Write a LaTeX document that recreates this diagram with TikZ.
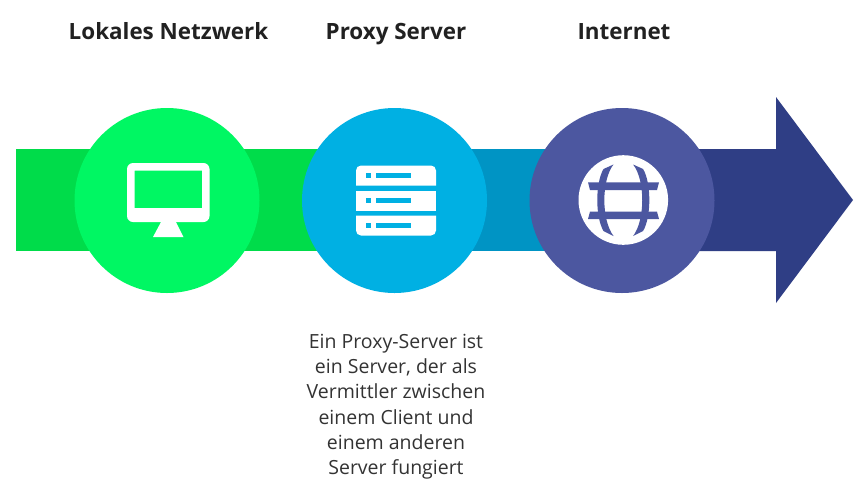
\documentclass[tikz,border=0pt]{standalone}
\usepackage{fontspec}
\setmainfont{Open Sans}
\definecolor{cgreen}{HTML}{00F763}
\definecolor{bgreen}{HTML}{00DC4A}
\definecolor{cblue}{HTML}{00B0E3}
\definecolor{bblue}{HTML}{0094C4}
\definecolor{cnavy}{HTML}{4C57A0}
\definecolor{bnavy}{HTML}{2F3E85}
\tikzset{
  disc/.style={circle,minimum size=185pt,inner sep=0pt,draw=none},
  heading/.style={font=\fontsize{22.4}{25}\selectfont\bfseries,text=black!87,inner sep=0pt,anchor=base},
  body/.style={font=\fontsize{19.5}{25.2}\selectfont,text=black!80,inner sep=0pt,align=center,anchor=north},
  glyph/.style={fill=white,draw=none}
}
\begin{document}
\begin{tikzpicture}[x=1pt,y=-1pt]
\useasboundingbox (0,0) rectangle (868,499);
\fill[white] (0,0) rectangle (868,499);
% bands
\fill[bgreen] (15.5,149) rectangle (320,251);
\fill[bblue] (320,149) rectangle (550,251);
\fill[bnavy] (550,149) -- (776,149) -- (776,97) -- (853,200) -- (776,303) -- (776,251) -- (550,251) -- cycle;
% discs
\node[disc,fill=cgreen] (lan) at (167,200.5) {};
\node[disc,fill=cblue] (proxy) at (394.5,200.5) {};
\node[disc,fill=cnavy] (net) at (622,200.5) {};
% monitor
\fill[glyph,even odd rule]
  [rounded corners=6pt] (127,163) rectangle (209.5,222)
  [sharp corners] (134.5,170.5) rectangle (202,208);
\fill[glyph] (161,222) -- (176,222) -- (183.5,237) -- (153,237) -- cycle;
% server
\fill[glyph] (356,185.5) [rounded corners=5pt] -- (356,165.5) -- (436,165.5) [sharp corners] -- (436,185.5) -- cycle;
\fill[glyph] (356,190.5) rectangle (436,210.5);
\fill[glyph] (356,215.5) [rounded corners=5pt] -- (356,235.5) -- (436,235.5) [sharp corners] -- (436,215.5) -- cycle;
\foreach \yy in {175.5,200.5,225.5}{
  \fill[cblue] (366,\yy-2.5) rectangle (371,\yy+2.5);
  \fill[cblue] (376,\yy-2.5) rectangle (411,\yy+2.5);
}
% globe
\fill[glyph] (623.3,200) circle (44.8);
\fill[cnavy] (588,182.3) -- (659,182.3) -- (657,190) -- (590,190) -- cycle;
\fill[cnavy] (590,211.7) -- (657,211.7) -- (659,219) -- (588,219) -- cycle;
\fill[cnavy]
  (603.5,169) .. controls (595.2,183) and (595.2,217) .. (603.5,231)
  -- (613.5,236) .. controls (601.3,220) and (601.3,180) .. (613.5,164.5) -- cycle;
\fill[cnavy]
  (643.1,169) .. controls (651.4,183) and (651.4,217) .. (643.1,231)
  -- (633.1,236) .. controls (645.3,220) and (645.3,180) .. (633.1,164.5) -- cycle;
% labels
\node[heading] (t1) at (168.5,39) {Lokales Netzwerk};
\node[heading] (t2) at (396,39) {Proxy Server};
\node[heading] (t3) at (624,39) {Internet};
\node[body] (desc) at (396,334) {Ein Proxy-Server ist\\ein Server, der als\\Vermittler zwischen\\einem Client und\\einem anderen\\Server fungiert};
\end{tikzpicture}
\end{document}
